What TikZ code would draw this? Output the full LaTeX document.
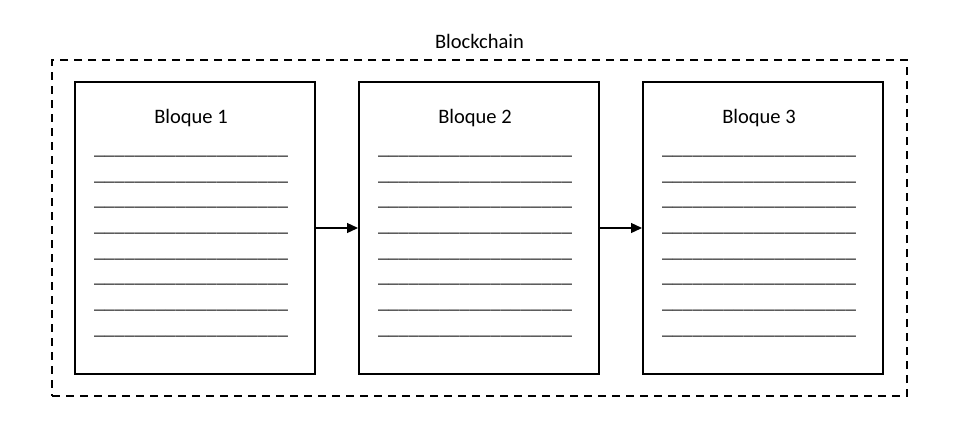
\documentclass[tikz,border=0pt]{standalone}
\usepackage{fontspec}
\setmainfont{Carlito}
\usetikzlibrary{arrows.meta}
\begin{document}
\begin{tikzpicture}[x=1pt,y=-1pt,
  lbl/.style={font=\fontsize{20.5pt}{24pt}\selectfont,inner sep=0pt,anchor=base},
  uline/.style={font=\fontsize{20.5pt}{24pt}\selectfont,inner sep=0pt,anchor=base,text=black!85},
  blockbox/.style={draw=black,line width=2pt,minimum width=240pt,minimum height=292pt,inner sep=0pt},
  frame/.style={draw=black,line width=2pt,dash pattern=on 8pt off 6pt},
  link/.style={draw=black,line width=1.3pt,-{Triangle[length=11pt,width=10pt]}}]
\useasboundingbox (0,0) rectangle (969,437);
\node[frame,minimum width=855pt,minimum height=336pt,inner sep=0pt] (chain) at (479.5,228) {};
\node[lbl] (title) at (479.5,48) {Blockchain};
\foreach \i/\cx in {1/195,2/479,3/763}{
  \node[blockbox] (b\i) at (\cx,228) {};
  \node[lbl] (t\i) at (\cx-4,123) {Bloque \i};
  \foreach \k in {0,...,7}{
    \node[uline] (u\i\k) at (\cx-4,154.3+25.7*\k) {\_\_\_\_\_\_\_\_\_\_\_\_\_\_\_\_\_\_\_};
  }
}
\draw[link] (b1.east) -- (b2.west);
\draw[link] (b2.east) -- (b3.west);
\end{tikzpicture}
\end{document}
